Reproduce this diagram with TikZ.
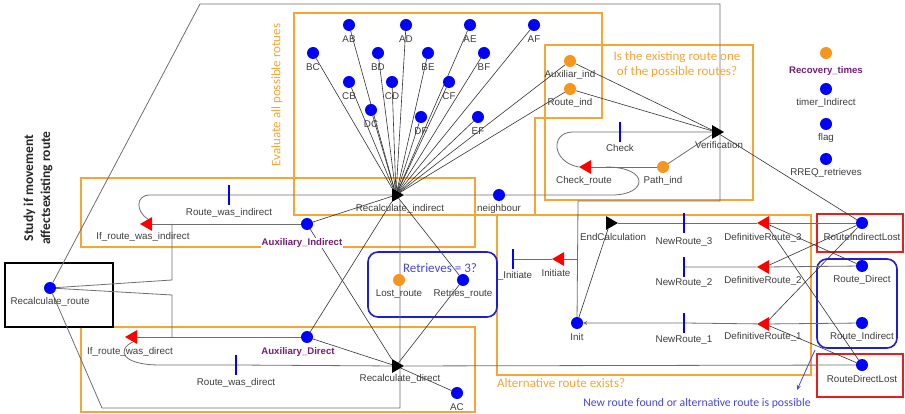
\documentclass[tikz,border=0pt]{standalone}
\usepackage{fontspec}
\setmainfont{Liberation Sans}
\newfontfamily\calfont{Carlito}
\usetikzlibrary{shapes.geometric,arrows.meta}
\definecolor{pblue}{RGB}{0,0,255}
\definecolor{porange}{RGB}{247,150,30}
\definecolor{boxorange}{RGB}{246,165,55}
\definecolor{pred}{RGB}{255,0,0}
\definecolor{labgray}{RGB}{60,60,60}
\definecolor{arcgray}{RGB}{110,110,110}
\definecolor{fangray}{RGB}{50,50,50}
\definecolor{purp}{RGB}{115,30,115}
\definecolor{tblue}{RGB}{70,70,220}
\definecolor{rbox}{RGB}{230,30,30}
\definecolor{bbox}{RGB}{30,30,210}
\pgfdeclarelayer{bg}
\pgfsetlayers{bg,main}
\newcommand\mkplace[5]{\node[#2] (#1) at (#3,#4) {};\node[lab] (#1l) at (#3,#4+14) {#5};}
\begin{document}
\begin{tikzpicture}[x=1pt,y=-1pt,
 place/.style={circle,fill=pblue,inner sep=0,minimum size=12pt},
 oplace/.style={circle,fill=porange,inner sep=0,minimum size=12pt},
 bartr/.style={rectangle,fill=pblue,inner sep=0,minimum width=2pt,minimum height=20pt},
 blktr/.style={regular polygon,regular polygon sides=3,shape border rotate=-90,fill=black,inner sep=0,minimum size=16pt},
 redtr/.style={regular polygon,regular polygon sides=3,shape border rotate=90,fill=pred,inner sep=0,minimum size=16pt},
 lab/.style={font=\fontsize{9.8}{10}\selectfont,text=labgray,inner sep=0},
 plab/.style={font=\bfseries\fontsize{9.6}{10}\selectfont,text=purp,inner sep=1pt,fill=white},
 arc/.style={draw=arcgray,line width=0.8pt},
 fan/.style={draw=fangray,line width=0.6pt},
 obox/.style={draw=boxorange,line width=1.6pt},
 rrect/.style={draw=rbox,line width=1.6pt},
 brect/.style={draw=bbox,line width=1.6pt,rounded corners=10pt},
 note/.style={font=\calfont\fontsize{13}{15}\selectfont,inner sep=0},
]
\useasboundingbox (0,0) rectangle (905,414);

% ---------- places ----------
\mkplace{AB}{place}{349}{25}{AB}
\mkplace{AD}{place}{406}{25}{AD}
\mkplace{AE}{place}{470}{25}{AE}
\mkplace{AF}{place}{534}{25}{AF}
\mkplace{BC}{place}{313}{53}{BC}
\mkplace{BD}{place}{378}{53}{BD}
\mkplace{BE}{place}{428}{53}{BE}
\mkplace{BF}{place}{484}{53}{BF}
\mkplace{CB}{place}{349}{82}{CB}
\mkplace{CD}{place}{392}{82}{CD}
\mkplace{CF}{place}{449}{82}{CF}
\mkplace{DC}{place}{371}{110}{DC}
\mkplace{DF}{place}{421}{117}{DF}
\mkplace{EF}{place}{478}{117}{EF}
\mkplace{AXI}{oplace}{570}{61}{Auxiliar\_ind}
\mkplace{RTI}{oplace}{570}{89}{Route\_ind}
\mkplace{PI}{oplace}{663}{167}{Path\_ind}
\mkplace{NB}{place}{499}{195}{neighbour}
\mkplace{LR}{oplace}{399}{280}{Lost\_route}
\mkplace{RTR}{place}{463}{280}{Retries\_route}
\mkplace{AC}{place}{457}{393}{AC}
\mkplace{Init}{place}{577}{323}{Init}
\mkplace{RR}{place}{50}{288}{Recalculate\_route}
\mkplace{RIL}{place}{862}{223}{RouteIndirectLost}
\mkplace{RDir}{place}{862}{266}{Route\_Direct}
\mkplace{RInd}{place}{862}{323}{Route\_Indirect}
\mkplace{RDL}{place}{862}{365}{RouteDirectLost}
\mkplace{TI}{place}{826}{89}{timer\_Indirect}
\mkplace{FL}{place}{826}{124}{flag}
\mkplace{RQ}{place}{826}{159}{RREQ\_retrieves}
\node[oplace] (RT) at (826,53) {};
\node[plab,fill=none] (RTl) at (826,71) {Recovery\_times};
\node[place] (AuxI) at (307,224) {};
\node[plab] (AuxIl) at (302,243) {Auxiliary\_Indirect};
\node[place] (AuxD) at (307,337) {};
\node[plab] (AuxDl) at (298,352) {Auxiliary\_Direct};

% ---------- transitions ----------
\node[blktr] (RI) at (396,195) {};
\node[lab] (RIl) at (400,209) {Recalculate\_indirect};
\node[blktr] (RD) at (396,366) {};
\node[lab] (RDl) at (400,379) {Recalculate\_direct};
\node[blktr] (VER) at (716,132) {};
\node[lab] (VERl) at (719,145) {Verification};
\node[blktr] (EC) at (610,223) {};
\node[lab] (ECl) at (613,237) {EndCalculation};
\node[redtr] (IRI) at (148,224) {};
\node[lab] (IRIl) at (143,237) {If\_route\_was\_indirect};
\node[redtr] (IRD) at (133,337) {};
\node[lab] (IRDl) at (130,352) {If\_route\_was\_direct};
\node[redtr] (CR) at (587,167) {};
\node[lab] (CRl) at (584,181) {Check\_route};
\node[redtr] (INI) at (560,259) {};
\node[lab] (INIl) at (556,273) {Initiate};
\node[redtr] (DR3) at (765,223) {};
\node[lab] (DR3l) at (763,238) {DefinitiveRoute\_3};
\node[redtr] (DR2) at (765,267) {};
\node[lab] (DR2l) at (763,281) {DefinitiveRoute\_2};
\node[redtr] (DR1) at (765,324) {};
\node[lab] (DR1l) at (763,337) {DefinitiveRoute\_1};
\node[bartr] (RWI) at (229,195) {};
\node[lab] (RWIl) at (229,213) {Route\_was\_indirect};
\node[bartr] (RWD) at (236,365) {};
\node[lab] (RWDl) at (236,383) {Route\_was\_direct};
\node[bartr] (CHK) at (620,132) {};
\node[lab] (CHKl) at (620,148) {Check};
\node[bartr] (NR3) at (684,223) {};
\node[lab] (NR3l) at (684,242) {NewRoute\_3};
\node[bartr] (NR2) at (684,267) {};
\node[lab] (NR2l) at (684,283) {NewRoute\_2};
\node[bartr] (NR1) at (684,323) {};
\node[lab] (NR1l) at (684,340) {NewRoute\_1};
\node[bartr] (UINI) at (513,259) {};
\node[lab] (UINIl) at (515,276) {\_Initiate};

% ---------- notes ----------
\node[note,text=boxorange,rotate=90] (evalt) at (277,95) {Evaluate all possible rotues};
\node[note,text=black!85,rotate=90,align=center,font=\calfont\bfseries\fontsize{13.5}{17}\selectfont] (studyt) at (38,188) {Study if movement\\affectsexisting route};
\node[note,text=boxorange,align=center] (ist) at (677,65) {Is the existing route one\\of the possible routes?};
\node[note,text=boxorange,anchor=west] (altt) at (497,383) {Alternative route exists?};
\node[note,text=tblue,font=\calfont\fontsize{11.7}{13}\selectfont] (newt) at (697,403) {New route found or alternative route is possible};
\node[note,text=tblue] (rett) at (440,268) {Retrieves = 3?};

% ---------- coordinates ----------
\coordinate (g1) at (200,4);
\coordinate (g2) at (720,4);
\coordinate (g3) at (720,201);
\coordinate (g4) at (578,201);
\coordinate (v1) at (400,200);
\coordinate (v2) at (400,408);
\coordinate (v3) at (102,408);
\coordinate (k1) at (172,280);
\coordinate (k2) at (172,224);
\coordinate (k3) at (172,295);
\coordinate (k4) at (172,337);
\coordinate (h0) at (150,195);
\coordinate (h1) at (612,195);
\coordinate (h2) at (606,167);
\coordinate (l0) at (160,365);
\coordinate (c0) at (572,132);
\coordinate (i1) at (578,259);
\coordinate (ba1) at (815,350);
\coordinate (ba2) at (797,390);

\begin{pgfonlayer}{bg}
% boxes
\draw[obox] (294,13) -- (602,13) -- (602,118) -- (535,118) -- (535,215) -- (294,215) -- cycle;
\draw[obox] (545,45) rectangle (753,200);
\draw[obox] (81,178) rectangle (475,247);
\draw[obox] (81,327) rectangle (475,412);
\draw[obox] (497,215) rectangle (811,375);
\draw[draw=black,line width=1.8pt] (5,263) rectangle (113,327);
\draw[rrect] (817,214) rectangle (903,252);
\draw[rrect] (817,354) rectangle (903,397);
\draw[brect] (817,259) rectangle (897,348);
\draw[brect] (368,252) rectangle (497,317);
% arcs
\foreach \n in {AB,AD,AE,AF,BC,BD,BE,BF,CB,CD,CF,DC,DF,EF} \draw[fan] (\n) -- (RI);
\draw[fan] (AXI) -- (RI);
\draw[fan] (RTI) -- (RI);
\draw[fan] (AXI) -- (VER);
\draw[fan] (RTI) -- (VER);
\draw[fan] (VER) -- (RIL);
\draw[arc] (PI) -- (CR);
\draw[arc] (PI) -- (VER);
\draw[arc] (VER) -- (CHK) -- (c0) .. controls (550,133) and (552,162) .. (CR.west);
\draw[arc] (IRI.north) .. controls (136,212) and (135,195) .. (h0) -- (RWI) -- (RI) -- (NB) -- (h1) .. controls (648,195) and (650,167) .. (h2);
\draw[arc] (IRI) -- (AuxI);
\draw[arc] (RR) -- (k1) -- (k2);
\draw[arc] (RR) -- (k3) -- (k4);
\draw[arc] (IRD) -- (AuxD);
\draw[arc] (IRD.south) .. controls (116,350) and (122,365) .. (l0) -- (RWD) -- (RD) -- (RDL);
\draw[fan] (AuxI) -- (RI);
\draw[fan] (AuxI) -- (RD);
\draw[fan] (AuxD) -- (RI);
\draw[fan] (AuxD) -- (RD);
\draw[fan] (AC) -- (RD);
\draw[fan] (RI) -- (RTR);
\draw[fan] (RTR) -- (RD);
\draw[arc] (v1) -- (v2) -- (v3) -- (RR);
\draw[arc] (RR) -- (g1) -- (g2) -- (g3) -- (g4) -- (Init);
\draw[fan] (Init) -- (EC);
\draw[arc] (EC) -- (NR3) -- (DR3) -- (RIL);
\draw[arc] (NR2) -- (DR2) -- (RDir);
\draw[arc,-{Stealth[length=4pt,width=4pt]}] (RInd) -- (DR1) -- (NR1) -- (Init);
\draw[arc] (UINI) -- (INI) -- (i1);
\draw[fan] (RIL) -- (DR2);
\draw[fan] (RIL) -- (DR1);
\draw[fan] (RDir) -- (DR3);
\draw[fan] (RDL) -- (DR3);
\draw[fan] (RDL) -- (DR1);
\draw[draw=tblue,line width=0.8pt,-{Stealth[length=5pt,width=4pt]}] (ba1) -- (ba2);
\end{pgfonlayer}
\end{tikzpicture}
\end{document}
